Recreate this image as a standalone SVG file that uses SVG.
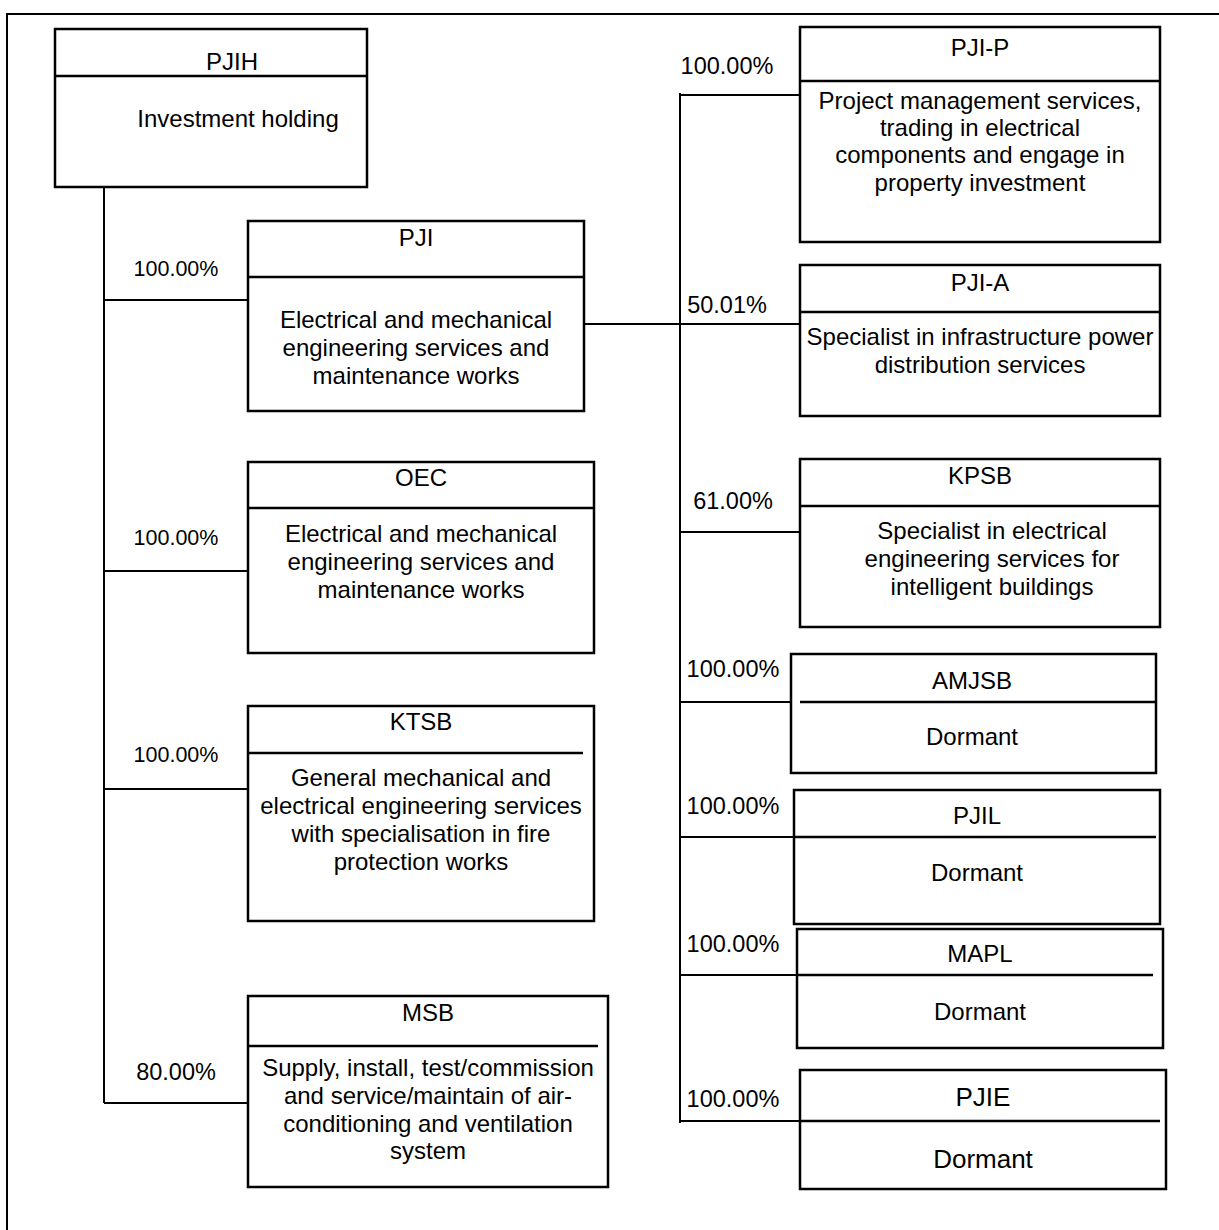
<svg xmlns="http://www.w3.org/2000/svg" width="1219" height="1230" viewBox="0 0 1219 1230">
<style>
text{font-family:"Liberation Sans",Arial,sans-serif;fill:#000;text-anchor:middle}
.t{font-size:24px}
.d{font-size:24px}
.p{font-size:21.5px}
.pr{font-size:23.5px}
.big{font-size:26px}
.box{fill:#fff;stroke:#000;stroke-width:2.5}
.div{stroke:#000;stroke-width:2.5;fill:none}
.c{stroke:#000;stroke-width:2;fill:none}
</style>
<rect width="1219" height="1230" fill="#fff"/>
<path class="c" d="M7,1230 V14 H1219"/>
<g id="connectors">
<path class="c" d="M104,187 V1103 M104,300 H248 M104,571 H248 M104,789 H248 M104,1103 H248"/>
<path class="c" d="M680,93 V1123 M680,95 H800 M584,324 H800 M680,532 H800 M680,702 H791 M680,837 H794 M680,975 H797 M680,1121 H800"/>
</g>
<g id="labels">
<text class="p" x="176" y="276">100.00%</text>
<text class="p" x="176" y="545">100.00%</text>
<text class="p" x="176" y="762">100.00%</text>
<text class="pr" x="176" y="1080">80.00%</text>
<text class="pr" x="727" y="74">100.00%</text>
<text class="pr" x="727" y="313">50.01%</text>
<text class="pr" x="733" y="509">61.00%</text>
<text class="pr" x="733" y="677">100.00%</text>
<text class="pr" x="733" y="814">100.00%</text>
<text class="pr" x="733" y="952">100.00%</text>
<text class="pr" x="733" y="1107">100.00%</text>
</g>
<g id="PJIH">
<rect class="box" x="55" y="29" width="312" height="158"/>
<line class="div" x1="55" y1="76" x2="367" y2="76"/>
<text class="t" x="232" y="70">PJIH</text>
<text class="d" x="238" y="127">Investment holding</text>
</g>
<g id="PJI">
<rect class="box" x="248" y="221" width="336" height="190"/>
<line class="div" x1="248" y1="277" x2="584" y2="277"/>
<text class="t" x="416" y="246">PJI</text>
<text class="d" x="416" y="328">Electrical and mechanical</text>
<text class="d" x="416" y="356">engineering services and</text>
<text class="d" x="416" y="384">maintenance works</text>
</g>
<g id="OEC">
<rect class="box" x="248" y="462" width="346" height="191"/>
<line class="div" x1="248" y1="508" x2="594" y2="508"/>
<text class="t" x="421" y="486">OEC</text>
<text class="d" x="421" y="542">Electrical and mechanical</text>
<text class="d" x="421" y="570">engineering services and</text>
<text class="d" x="421" y="598">maintenance works</text>
</g>
<g id="KTSB">
<rect class="box" x="248" y="706" width="346" height="215"/>
<line class="div" x1="248" y1="753" x2="583" y2="753"/>
<text class="t" x="421" y="730">KTSB</text>
<text class="d" x="421" y="786">General mechanical and</text>
<text class="d" x="421" y="814">electrical engineering services</text>
<text class="d" x="421" y="842">with specialisation in fire</text>
<text class="d" x="421" y="870">protection works</text>
</g>
<g id="MSB">
<rect class="box" x="248" y="996" width="360" height="191"/>
<line class="div" x1="248" y1="1046" x2="598" y2="1046"/>
<text class="t" x="428" y="1021">MSB</text>
<text class="d" x="428" y="1076">Supply, install, test/commission</text>
<text class="d" x="428" y="1104">and service/maintain of air-</text>
<text class="d" x="428" y="1132">conditioning and ventilation</text>
<text class="d" x="428" y="1159">system</text>
</g>
<g id="PJI-P">
<rect class="box" x="800" y="27" width="360" height="215"/>
<line class="div" x1="800" y1="81" x2="1160" y2="81"/>
<text class="t" x="980" y="56">PJI-P</text>
<text class="d" x="980" y="109">Project management services,</text>
<text class="d" x="980" y="136">trading in electrical</text>
<text class="d" x="980" y="163">components and engage in</text>
<text class="d" x="980" y="191">property investment</text>
</g>
<g id="PJI-A">
<rect class="box" x="800" y="265" width="360" height="151"/>
<line class="div" x1="800" y1="312" x2="1160" y2="312"/>
<text class="t" x="980" y="291">PJI-A</text>
<text class="d" x="980" y="345">Specialist in infrastructure power</text>
<text class="d" x="980" y="373">distribution services</text>
</g>
<g id="KPSB">
<rect class="box" x="800" y="459" width="360" height="168"/>
<line class="div" x1="800" y1="506" x2="1160" y2="506"/>
<text class="t" x="980" y="484">KPSB</text>
<text class="d" x="992" y="539">Specialist in electrical</text>
<text class="d" x="992" y="567">engineering services for</text>
<text class="d" x="992" y="595">intelligent buildings</text>
</g>
<g id="AMJSB">
<rect class="box" x="791" y="654" width="365" height="119"/>
<line class="div" x1="800" y1="702" x2="1156" y2="702"/>
<text class="t" x="972" y="689">AMJSB</text>
<text class="d" x="972" y="745">Dormant</text>
</g>
<g id="PJIL">
<rect class="box" x="794" y="790" width="366" height="134"/>
<line class="div" x1="794" y1="837" x2="1156" y2="837"/>
<text class="t" x="977" y="824">PJIL</text>
<text class="d" x="977" y="881">Dormant</text>
</g>
<g id="MAPL">
<rect class="box" x="797" y="929" width="366" height="119"/>
<line class="div" x1="797" y1="975" x2="1153" y2="975"/>
<text class="t" x="980" y="962">MAPL</text>
<text class="d" x="980" y="1020">Dormant</text>
</g>
<g id="PJIE">
<rect class="box" x="800" y="1070" width="366" height="119"/>
<line class="div" x1="800" y1="1121" x2="1160" y2="1121"/>
<text class="big" x="983" y="1106">PJIE</text>
<text class="big" x="983" y="1168">Dormant</text>
</g>
</svg>
